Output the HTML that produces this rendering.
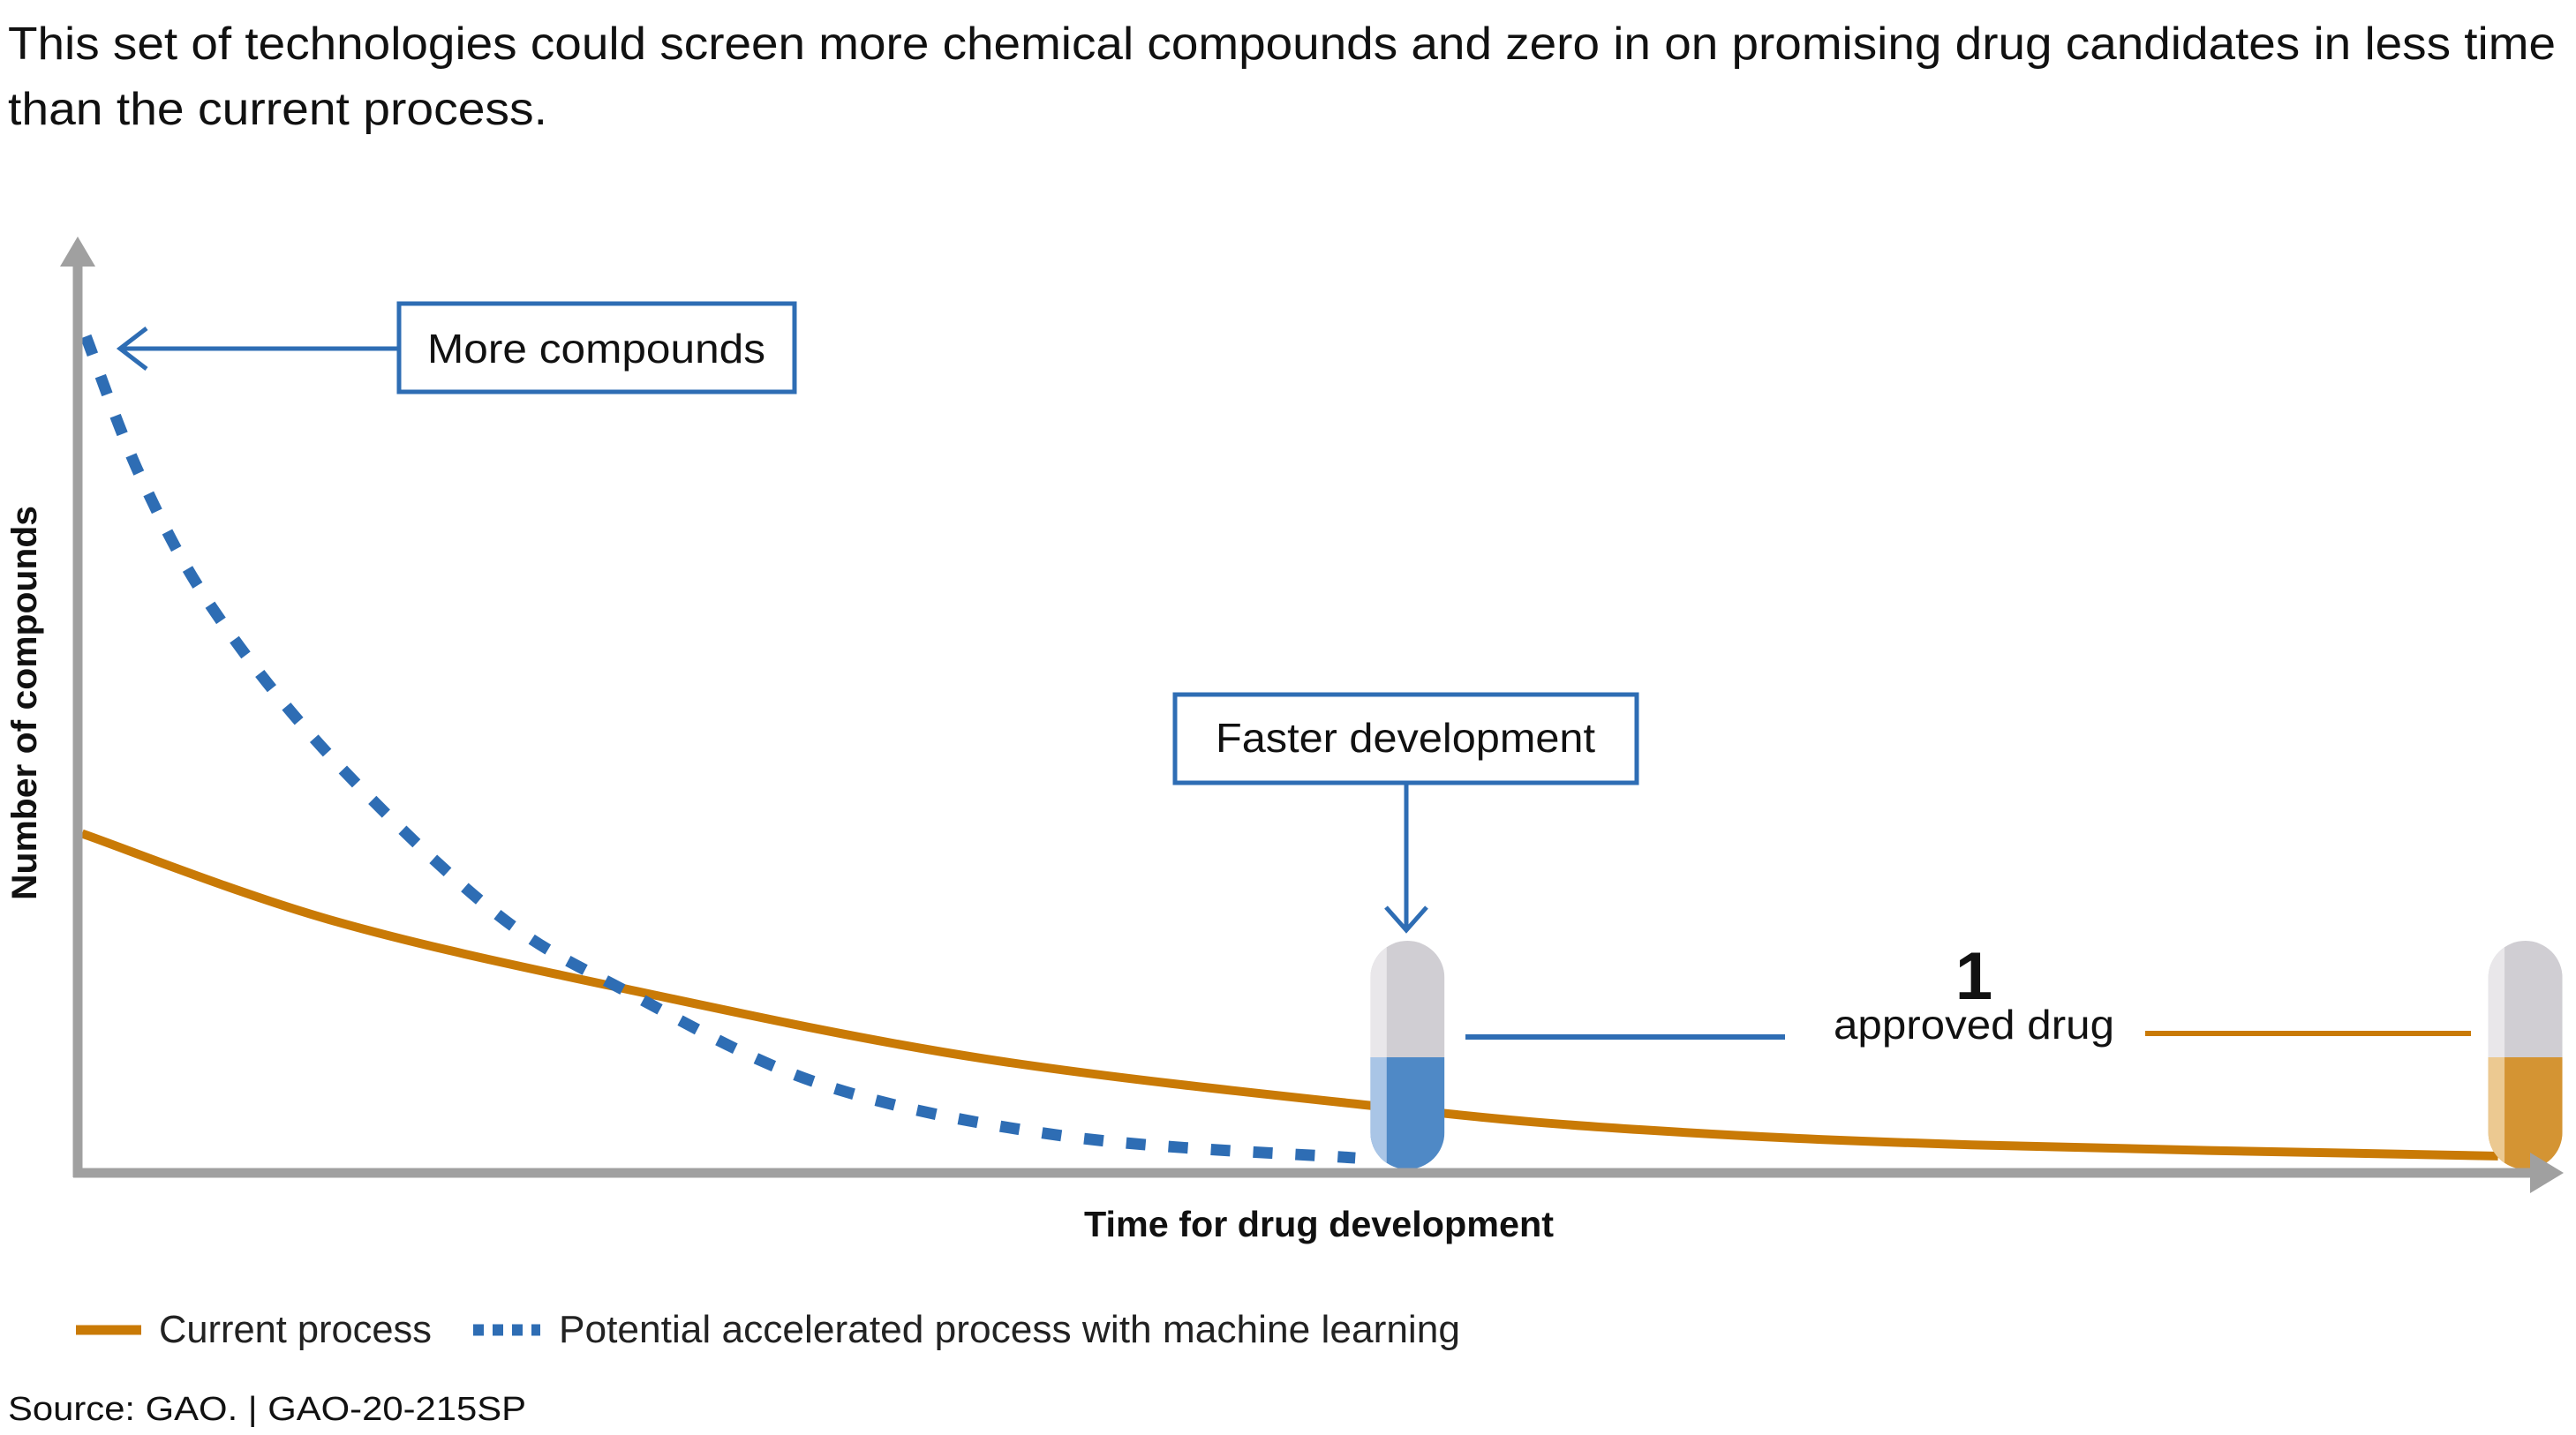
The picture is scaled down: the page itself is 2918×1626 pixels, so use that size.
<!DOCTYPE html>
<html><head><meta charset="utf-8">
<style>
html,body{margin:0;padding:0;background:#fff;}
svg{display:block;font-family:"Liberation Sans",sans-serif;}
</style></head>
<body>
<svg id="chart" width="2918" height="1626" viewBox="0 0 2918 1626" xmlns="http://www.w3.org/2000/svg">
<text x="9" y="67" font-size="52" fill="#111" textLength="2886" lengthAdjust="spacingAndGlyphs">This set of technologies could screen more chemical compounds and zero in on promising drug candidates in less time</text>
<text x="9" y="141" font-size="52" fill="#111" textLength="611" lengthAdjust="spacingAndGlyphs">than the current process.</text>

<g id="marks"></g>

<!-- axes -->
<line x1="88" y1="300" x2="88" y2="1334" stroke="#a0a0a0" stroke-width="11"/>
<polygon points="88,268 68,302 108,302" fill="#a0a0a0"/>
<line x1="83" y1="1329" x2="2870" y2="1329" stroke="#a0a0a0" stroke-width="11"/>
<polygon points="2904,1329 2866,1306 2866,1352" fill="#a0a0a0"/>

<text transform="translate(41,1020) rotate(-90)" font-size="40" font-weight="bold" fill="#111" textLength="447" lengthAdjust="spacingAndGlyphs">Number of compounds</text>
<text x="1228" y="1401" font-size="41" font-weight="bold" fill="#111" textLength="532" lengthAdjust="spacingAndGlyphs">Time for drug development</text>

<!-- annotations -->
<g>
<rect x="452" y="344" width="448" height="100" fill="#fff" stroke="#2e6db4" stroke-width="5"/>
<text x="484" y="411" font-size="46" fill="#111" textLength="383" lengthAdjust="spacingAndGlyphs">More compounds</text>
<line x1="452" y1="395" x2="136" y2="395" stroke="#2e6db4" stroke-width="5"/>
<polyline points="166,372 136,395 166,418" fill="none" stroke="#2e6db4" stroke-width="5"/>
</g>
<g>
<rect x="1331" y="787" width="523" height="100" fill="#fff" stroke="#2e6db4" stroke-width="5"/>
<text x="1377" y="852" font-size="46" fill="#111" textLength="430" lengthAdjust="spacingAndGlyphs">Faster development</text>
<line x1="1593" y1="889" x2="1593" y2="1050" stroke="#2e6db4" stroke-width="5"/>
<polyline points="1570,1028 1593,1054 1616,1028" fill="none" stroke="#2e6db4" stroke-width="5"/>
</g>

<text x="2236" y="1132" font-size="76" font-weight="bold" fill="#111" text-anchor="middle">1</text>
<text x="2077" y="1177" font-size="46" fill="#111" textLength="318" lengthAdjust="spacingAndGlyphs">approved drug</text>
<line x1="1660" y1="1175" x2="2022" y2="1175" stroke="#2e6db4" stroke-width="6"/>
<line x1="2430" y1="1171" x2="2799" y2="1171" stroke="#c97a06" stroke-width="6"/>

<!-- legend -->
<g>
<line x1="86" y1="1507" x2="160" y2="1507" stroke="#c97a06" stroke-width="11"/>
<text x="180" y="1521" font-size="44" fill="#222" textLength="309" lengthAdjust="spacingAndGlyphs">Current process</text>
<line x1="536" y1="1507" x2="612" y2="1507" stroke="#2e6db4" stroke-width="13" stroke-dasharray="12,10"/>
<text x="633" y="1521" font-size="44" fill="#222" textLength="1021" lengthAdjust="spacingAndGlyphs">Potential accelerated process with machine learning</text>
</g>
<text x="9" y="1609" font-size="38" fill="#111" textLength="587" lengthAdjust="spacingAndGlyphs">Source: GAO.  |  GAO-20-215SP</text>
</svg>
<script>
// data (x: % of development time, y: % of max compounds)
const currentX = [0.25, 10.2, 22.1, 36.6, 53.2, 63.1, 76.3, 97.5];
const currentY = [36.3, 27.1, 19.7, 12.2, 6.9, 4.6, 3.0, 1.8];
const mlX = [0.4, 2.6, 5.5, 10.2, 16.8, 22.1, 30.0, 39.9, 51.5];
const mlY = [89.5, 74.5, 60.4, 44.7, 28.0, 19.5, 9.5, 3.9, 1.6];
const pillPositions = [53.6, 98.6]; // x in % of time for the two approved-drug pills

const X0 = 86, X1 = 2900, Y0 = 1329, Y1 = 270;
const sx = v => X0 + (X1 - X0) * v / 100;
const sy = v => Y0 - (Y0 - Y1) * v / 100;
const NS = 'http://www.w3.org/2000/svg';
const marks = document.getElementById('marks');

function smoothPath(xs, ys) {
  const p = xs.map((x, i) => [sx(x), sy(ys[i])]);
  let d = 'M' + p[0][0] + ',' + p[0][1];
  for (let i = 0; i < p.length - 1; i++) {
    const a = p[i - 1] || p[i], b = p[i], c = p[i + 1], e = p[i + 2] || c;
    const c1 = [b[0] + (c[0] - a[0]) / 6, b[1] + (c[1] - a[1]) / 6];
    const c2 = [c[0] - (e[0] - b[0]) / 6, c[1] - (e[1] - b[1]) / 6];
    d += ' C' + c1 + ' ' + c2 + ' ' + c;
  }
  return d;
}

const cur = document.createElementNS(NS, 'path');


cur.setAttribute('d', smoothPath(currentX, currentY));
cur.setAttribute('fill', 'none');
cur.setAttribute('stroke', '#c97a06');
cur.setAttribute('stroke-width', '10');
marks.appendChild(cur);

const ml = document.createElementNS(NS, 'path');


ml.setAttribute('d', smoothPath(mlX, mlY));
ml.setAttribute('fill', 'none');
ml.setAttribute('stroke', '#2e6db4');
ml.setAttribute('stroke-width', '13');
ml.setAttribute('stroke-dasharray', '22,26');
marks.appendChild(ml);

const pillColors = [['#4f89c6', '#a9c5e6'], ['#d49433', '#ecc991']];
pillPositions.forEach((px, i) => {
  const cx = sx(px), w = 84, top = 1066, bot = 1325, mid = 1198;
  const g = document.createElementNS(NS, 'g');
  
  
  const id = 'clip' + i;
  g.innerHTML =
    '<clipPath id="' + id + '"><rect x="' + (cx - w / 2) + '" y="' + top + '" width="' + w + '" height="' + (bot - top) + '" rx="' + (w / 2) + '" ry="' + (w / 2) + '"/></clipPath>' +
    '<g clip-path="url(#' + id + ')">' +
    '<rect x="' + (cx - w / 2) + '" y="' + top + '" width="' + w + '" height="' + (mid - top) + '" fill="#d0ced3"/>' +
    '<rect x="' + (cx - w / 2) + '" y="' + top + '" width="' + (w * 0.22) + '" height="' + (mid - top) + '" fill="#e9e7ea"/>' +
    '<rect x="' + (cx - w / 2) + '" y="' + mid + '" width="' + w + '" height="' + (bot - mid) + '" fill="' + pillColors[i][0] + '"/>' +
    '<rect x="' + (cx - w / 2) + '" y="' + mid + '" width="' + (w * 0.22) + '" height="' + (bot - mid) + '" fill="' + pillColors[i][1] + '"/>' +
    '</g>';
  marks.appendChild(g);
});
</script>
</body></html>
